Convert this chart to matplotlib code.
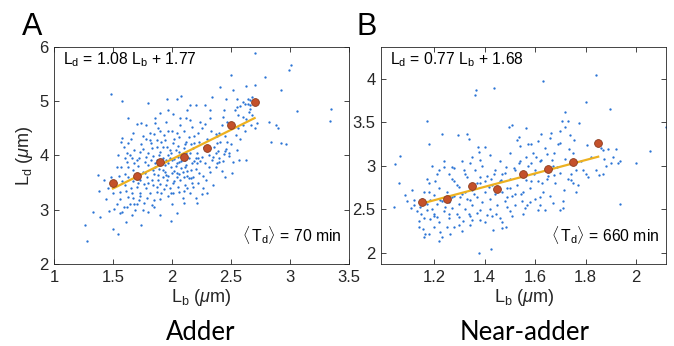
import matplotlib
matplotlib.use("Agg")
import matplotlib.pyplot as plt
import numpy as np

plt.rcParams['font.family'] = ['Liberation Sans', 'DejaVu Sans']
plt.rcParams['mathtext.fontset'] = 'custom'
plt.rcParams['mathtext.rm'] = 'Liberation Sans'
plt.rcParams['mathtext.it'] = 'Liberation Sans:italic'
plt.rcParams['mathtext.bf'] = 'Liberation Sans:bold'

# ---------------- Panel A data (Adder) ----------------
pts_a = [
 (2.70,5.88),(3.01,5.67),(2.99,5.58),(2.79,5.45),(2.50,5.47),(2.92,5.20),(2.41,5.26),(2.63,5.28),
 (1.48,5.13),(1.58,5.00),(1.80,4.96),(1.96,5.04),(2.04,5.04),(2.08,5.10),(2.15,4.92),(2.13,4.83),
 (2.07,4.68),(2.12,4.68),(2.20,4.93),(2.28,4.93),(2.32,4.83),(2.34,5.08),(2.46,5.03),(2.44,4.83),
 (2.53,4.83),(2.55,4.89),(2.55,5.04),(2.60,4.99),(2.64,5.04),(2.66,4.93),(2.66,5.02),(2.70,5.30),
 (2.68,5.08),(2.65,4.80),(2.63,4.66),(2.70,4.50),(2.56,4.51),(2.49,4.54),(2.54,4.37),(2.55,4.10),
 (2.63,3.91),(2.52,3.88),(2.51,3.68),(2.48,4.04),(2.88,4.55),(2.90,4.50),(2.92,4.22),(2.97,4.21),
 (3.06,4.81),(3.35,4.86),(3.34,4.63),(2.82,4.62),(1.63,4.69),(1.70,4.58),(1.78,4.56),(1.86,4.68),
 (1.90,4.78),(1.86,4.59),(1.97,4.83),(2.01,4.77),(1.90,4.44),(1.81,4.41),(1.75,4.35),(1.58,4.32),
 (1.59,4.16),(1.63,4.22),(1.64,4.00),(1.54,4.00),(1.57,3.79),(1.37,3.63),(1.42,3.55),(1.38,3.34),
 (1.39,2.87),(1.33,2.96),(1.26,2.71),(1.28,2.42),(1.47,2.98),(1.50,2.65),(1.54,2.56),(1.56,2.93),
 (1.61,2.77),(1.53,3.11),(1.68,3.11),(1.75,3.00),(1.74,2.71),(1.90,2.90),(1.99,2.79),(2.04,2.93),
 (2.21,3.13),(2.30,3.30),(2.31,3.79),(2.23,3.67),(2.25,3.97),(2.29,4.10),(2.37,4.40),(2.38,4.22),
 (2.35,3.97),(2.40,3.88),(2.37,3.79),(2.28,4.58),(2.22,4.41),(2.17,4.52),(2.19,4.22),(2.14,4.34),
 (2.10,4.13),(2.06,4.34),(2.05,3.97),(2.01,4.22),(1.97,4.00),(1.92,4.16),(1.87,4.29),(1.83,4.13),
 (1.78,3.97),(1.73,4.06),(1.70,3.91),(1.67,3.73),(1.63,3.61),(1.60,3.45),(1.56,3.33),(1.63,3.24),
 (1.67,3.21),(1.70,3.42),(1.73,3.30),(1.78,3.39),(1.83,3.55),(1.87,3.42),(1.85,3.18),(1.91,3.30),
 (1.95,3.45),(1.99,3.31),(2.02,3.52),(2.06,3.33),(2.11,3.45),(2.14,3.58),(2.18,3.42),(2.16,3.73),
 (2.21,3.85),(2.12,3.82),(2.08,3.76),(2.04,3.67),(1.99,3.79),(1.95,3.64),(1.92,3.73),(1.88,3.64),
 (1.84,3.73),(1.80,3.82),(1.75,3.70),(1.73,3.55),(1.67,3.52),(1.87,3.91),(1.90,4.07),(1.95,3.91),
 (1.98,4.10),(2.02,3.94),(2.06,4.07),(2.11,3.91),(2.15,4.04),(2.18,4.13),(2.12,4.25),(2.04,4.41),
 (1.97,4.44),(1.94,4.29),(1.87,4.16),(1.81,4.29),
 (1.58,3.52),(1.60,3.65),(1.62,3.88),(1.65,3.40),(1.66,3.95),(1.68,4.10),(1.69,3.62),(1.71,3.80),
 (1.72,3.18),(1.74,4.20),(1.76,3.48),(1.77,3.88),(1.79,3.60),(1.80,4.05),(1.81,3.30),(1.82,3.92),
 (1.84,3.45),(1.85,4.40),(1.86,3.78),(1.88,3.55),(1.89,4.00),(1.90,3.20),(1.91,3.85),(1.92,3.60),
 (1.93,4.38),(1.94,3.70),(1.96,3.55),(1.96,4.15),(1.97,3.86),(1.98,3.40),(1.99,4.05),(2.00,3.68),
 (2.00,3.92),(2.01,3.50),(2.02,4.30),(2.03,3.80),(2.04,3.60),(2.05,4.18),(2.06,3.88),(2.07,3.55),
 (2.08,4.00),(2.09,3.70),(2.10,3.35),(2.10,4.45),(2.11,3.78),(2.12,4.05),(2.13,3.62),(2.14,3.95),
 (2.15,3.30),(2.16,4.20),(2.17,3.85),(2.18,3.60),(2.19,4.35),(2.20,3.75),(2.21,4.05),(2.22,3.50),
 (2.23,4.25),(2.24,3.90),(2.25,4.50),(2.26,3.62),(2.27,4.15),(2.28,3.85),(2.30,4.30),(2.31,4.00),
 (2.32,3.70),(2.33,4.45),(2.34,3.92),(2.36,4.15),(2.38,4.35),(2.39,4.08),(2.40,3.95),(2.41,4.25),
 (2.42,4.55),(2.43,4.70),(2.45,4.35),(2.46,4.12),(2.47,4.62),(2.48,3.98),(1.55,3.62),(1.56,3.20),
 (1.57,4.25),(1.59,3.05),(1.61,3.35),(1.62,4.05),(1.64,3.10),(1.66,3.30),(1.67,4.42),(1.69,3.00),
 (1.71,3.50),(1.73,3.25),(1.74,4.60),(1.76,3.12),(1.78,4.30),(1.79,3.22),(1.82,4.22),(1.83,3.08),
 (1.85,3.65),(1.87,3.32),(1.88,4.50),(1.89,3.75),(1.91,4.25),(1.93,3.38),(1.95,4.62),(1.97,3.25),
 (1.98,3.95),(2.00,4.45),(2.01,3.30),(2.03,4.10),(2.05,3.42),(2.07,4.55),(2.09,3.22),(2.11,4.20),
 (2.13,3.40),(2.15,4.65),(2.17,3.50),(2.19,3.90),(2.20,3.22),(2.22,3.95),(2.24,4.62),(2.26,3.40),
 (2.29,3.55),(2.32,4.68),(2.35,3.45),(2.37,4.05),(2.40,4.42),(2.43,3.90),(2.45,3.60),(1.60,3.95),
 (1.63,3.78),(1.65,4.30),(1.68,3.85),(1.72,3.95),(1.75,4.12),(1.77,3.68),(1.80,3.50),(1.84,3.98),
 (1.86,3.85),(1.90,3.48),(1.92,3.95),(1.94,3.82),(1.97,3.62),(2.02,3.72),(2.04,3.85),(2.06,3.65),
 (2.08,3.90),(2.10,3.60),(2.13,3.72),(2.16,3.58),(2.20,3.95),(1.50,3.30),(1.52,3.48),(1.53,3.78),
 (1.46,3.40),(1.44,3.20),(1.48,3.60),(1.51,3.02),(1.58,2.95),(1.62,3.05),(1.66,2.90),(1.70,3.10),
 (1.80,2.95),(1.85,3.05),(2.00,3.10),(2.10,3.12),(2.25,3.28),(2.38,3.85),(2.42,3.72),(2.50,4.20),
 (2.58,4.30),(2.60,4.70),(2.62,4.45),(2.56,4.75),(2.58,4.90),(2.68,4.75),(2.72,4.60),
 (2.47,4.25),(2.45,4.08),(2.44,4.03),(2.57,3.92),(2.84,4.24),(2.52,5.20),(2.62,4.95),(2.64,4.95),
 (2.66,4.86),(2.67,4.56),(2.60,4.55),
]
lb_a = [p[0] for p in pts_a]
ld_a = [p[1] for p in pts_a]

bin_lb_a = [1.5, 1.7, 1.9, 2.1, 2.3, 2.5, 2.7]
bin_ld_a = [3.50, 3.62, 3.87, 3.97, 4.13, 4.55, 4.99]
slope_a, icpt_a = 1.08, 1.77
fit_range_a = [1.5, 2.7]

# ---------------- Panel B data (Near-adder) ----------------
pts_b = [
 (1.842,4.05),(1.631,3.98),(1.435,3.89),(1.367,3.87),(1.36,3.82),(1.80,3.73),(1.895,3.65),(1.173,3.51),
 (1.72,3.62),(1.73,3.52),(1.705,3.51),(1.774,3.49),(2.118,3.45),(2.057,3.17),(2.00,3.03),(1.066,3.11),
 (1.043,3.02),(1.04,2.53),(1.085,2.66),(1.232,3.37),(1.293,3.35),(1.18,3.25),(1.33,3.36),(1.337,3.31),
 (1.374,3.22),(1.40,3.22),(1.376,3.16),(1.496,3.45),(1.507,3.47),(1.536,3.33),(1.538,3.23),(1.562,3.43),
 (1.582,3.25),(1.622,3.36),(1.662,3.38),(1.675,3.15),(1.70,3.26),(1.72,3.45),(1.736,3.19),(1.755,3.30),
 (1.807,3.24),(1.87,3.18),(1.873,3.08),(1.887,3.19),(1.91,3.10),(1.92,3.19),(1.927,3.03),(1.937,3.05),
 (1.90,3.03),(1.935,2.56),(1.854,2.89),(1.871,2.90),(1.808,2.87),(1.79,2.95),(1.744,2.91),(1.744,2.84),
 (1.752,2.80),(1.76,2.70),(1.715,2.72),(1.70,2.49),(1.71,2.51),(1.67,2.57),(1.648,2.85),(1.628,2.80),
 (1.62,2.64),(1.61,2.49),(1.64,2.49),(1.566,2.55),(1.549,2.59),(1.542,2.68),(1.522,2.68),(1.502,2.74),
 (1.489,2.64),(1.489,2.53),(1.469,2.28),(1.486,2.30),(1.433,2.26),(1.423,2.04),(1.376,2.00),(1.445,2.45),
 (1.41,2.43),(1.383,2.49),(1.35,2.38),(1.337,2.45),(1.314,2.36),(1.297,2.41),(1.277,2.30),(1.261,2.22),
 (1.224,2.24),(1.217,2.13),(1.197,2.30),(1.164,2.22),(1.16,2.18),(1.155,2.27),(1.138,2.36),(1.142,2.53),
 (1.147,2.45),(1.17,2.49),(1.184,2.61),(1.118,2.61),(1.107,2.51),(1.158,2.70),(1.178,2.80),(1.204,2.82),
 (1.217,2.95),(1.237,2.99),(1.257,2.91),(1.27,2.99),(1.277,2.82),(1.297,2.76),(1.303,2.64),(1.323,2.70),
 (1.343,2.61),(1.356,2.68),(1.37,2.80),(1.383,2.87),(1.403,2.82),(1.416,2.76),(1.423,2.85),(1.436,2.91),
 (1.463,2.84),(1.47,2.91),(1.483,2.99),(1.516,2.97),(1.536,3.03),(1.562,3.10),(1.582,3.03),(1.602,3.10),
 (1.622,3.07),(1.648,3.14),(1.668,3.07),(1.688,2.99),(1.675,2.89),(1.595,2.91),(1.582,2.82),(1.562,2.84),
 (1.383,3.07),(1.343,3.03),(1.317,2.95),(1.33,2.87),(1.27,2.64),(1.244,2.53),(1.224,2.61),(1.257,2.45),
 (1.21,2.41),(1.197,2.45),(1.184,2.39),
 (1.12,2.55),(1.13,2.48),(1.15,2.62),(1.16,2.40),(1.17,2.56),(1.18,2.70),(1.19,2.50),(1.20,2.42),
 (1.20,2.66),(1.21,2.56),(1.22,2.35),(1.22,2.75),(1.23,2.60),(1.24,2.48),(1.25,2.70),(1.25,2.30),
 (1.26,2.58),(1.27,2.85),(1.27,2.52),(1.28,2.65),(1.29,2.44),(1.29,2.78),(1.30,2.56),(1.30,2.32),
 (1.31,2.68),(1.32,2.50),(1.32,2.90),(1.33,2.62),(1.34,2.42),(1.35,2.72),(1.35,2.55),(1.36,2.95),
 (1.37,2.64),(1.37,2.46),(1.38,2.80),(1.39,2.58),(1.40,2.70),(1.40,2.35),(1.41,2.88),(1.42,2.62),
 (1.42,2.50),(1.43,2.78),(1.44,2.68),(1.44,2.95),(1.45,2.55),(1.46,2.82),(1.46,2.40),(1.47,2.70),
 (1.48,2.60),(1.48,2.92),(1.49,2.75),(1.50,2.48),(1.50,2.85),(1.51,2.65),(1.52,2.95),(1.52,2.55),
 (1.53,2.78),(1.54,3.05),(1.55,2.70),(1.56,2.88),(1.56,2.52),(1.57,3.00),(1.58,2.75),(1.59,3.15),
 (1.60,2.62),(1.60,2.95),(1.61,2.82),(1.62,3.05),(1.63,2.70),(1.64,3.20),(1.65,2.88),(1.66,2.65),
 (1.67,3.00),(1.68,2.80),(1.69,3.25),(1.70,2.92),(1.71,2.60),(1.72,3.08),(1.73,2.85),(1.75,3.15),
 (1.76,2.95),(1.77,2.78),(1.78,3.05),(1.80,2.90),(1.82,3.10),(1.84,2.95),(1.86,3.20),(1.88,3.00),
 (1.14,2.30),(1.18,2.22),(1.23,2.18),(1.26,2.40),(1.31,2.25),(1.34,2.32),(1.38,2.38),(1.43,2.42),
 (1.47,2.35),(1.51,2.42),(1.55,2.45),(1.58,2.58),(1.62,2.55),(1.28,2.98),(1.31,3.05),(1.24,3.05),
 (1.35,3.10),(1.39,3.00),(1.42,3.12),(1.46,3.05),(1.50,3.15),(1.53,3.30),(1.57,3.25),(1.61,3.28),
 (1.66,3.32),(1.70,3.40),(1.74,3.35),(1.11,2.72),(1.17,2.85),(1.21,2.90),(1.19,3.00),(1.09,2.60),
 (1.06,2.80),
]
lb_b = [p[0] for p in pts_b]
ld_b = [p[1] for p in pts_b]

bin_lb_b = [1.15, 1.25, 1.35, 1.45, 1.55, 1.65, 1.75, 1.85]
bin_ld_b = [2.585, 2.62, 2.77, 2.73, 2.91, 2.96, 3.04, 3.26]
slope_b, icpt_b = 0.77, 1.68
fit_range_b = [1.15, 1.85]

# ---------------- Figure ----------------
W, H = 674, 346
fig = plt.figure(figsize=(W/100, H/100), dpi=100)

ax_color = '#262626'
dot_blue = '#2a74d4'
bin_face = '#c4512b'
bin_edge = '#8a3a1d'
fit_col = '#EDB120'

def style(ax):
    for s in ax.spines.values():
        s.set_color('#262626')
        s.set_linewidth(0.6)
    ax.tick_params(direction='in', top=True, right=True, length=3.5, width=0.6,
                   colors=ax_color, labelsize=12, pad=4)

axA = fig.add_axes([54/W, (H-264)/H, (349-54)/W, (264-46.7)/H])
axB = fig.add_axes([381.3/W, (H-264)/H, (666.3-381.3)/W, (264-46.7)/H])

for ax, lb, ld, blb, bld, sl, ic, fr in [
        (axA, lb_a, ld_a, bin_lb_a, bin_ld_a, slope_a, icpt_a, fit_range_a),
        (axB, lb_b, ld_b, bin_lb_b, bin_ld_b, slope_b, icpt_b, fit_range_b)]:
    ax.scatter(lb, ld, s=2.8, color=dot_blue, linewidths=0, zorder=2)
    xf = np.array(fr)
    ax.plot(xf, sl*xf + ic, color=fit_col, lw=1.6, zorder=3)
    ax.plot(blb, bld, 'o', ms=5.6, mfc=bin_face, mec=bin_edge, mew=0.6, zorder=4)
    style(ax)

axA.set_xlim(1, 3.5)
axA.set_ylim(2, 6)
axA.set_xticks([1, 1.5, 2, 2.5, 3, 3.5])
axA.set_xticklabels(['1', '1.5', '2', '2.5', '3', '3.5'])
axA.set_yticks([2, 3, 4, 5, 6])

axB.set_xlim(0.99, 2.12)
axB.set_ylim(1.87, 4.37)
axB.set_xticks([1.2, 1.4, 1.6, 1.8, 2.0])
axB.set_xticklabels(['1.2', '1.4', '1.6', '1.8', '2'])
axB.set_yticks([2, 2.5, 3, 3.5, 4])
axB.set_yticklabels(['2', '2.5', '3', '3.5', '4'])

lab_fs = 13
axA.set_xlabel(r'$\mathrm{L_b}$ ($\mu$m)', fontsize=lab_fs, color=ax_color, labelpad=2)
axB.set_xlabel(r'$\mathrm{L_b}$ ($\mu$m)', fontsize=lab_fs, color=ax_color, labelpad=2)
axA.set_ylabel(r'$\mathrm{L_d}$ ($\mu$m)', fontsize=lab_fs, color=ax_color, labelpad=3)

ann_fs = 11.3
axA.text(0.03, 0.94, r'$\mathrm{L_d}$ = 1.08 $\mathrm{L_b}$ + 1.77', transform=axA.transAxes,
         fontsize=ann_fs, va='center', ha='left', color='black')
axB.text(0.03, 0.94, r'$\mathrm{L_d}$ = 0.77 $\mathrm{L_b}$ + 1.68', transform=axB.transAxes,
         fontsize=ann_fs, va='center', ha='left', color='black')
axA.text(0.975, 0.135, r'$\langle\,\mathrm{T_d}\rangle$ = 70 min', transform=axA.transAxes,
         fontsize=ann_fs, va='center', ha='right', color='black')
axB.text(0.975, 0.135, r'$\langle\,\mathrm{T_d}\rangle$ = 660 min', transform=axB.transAxes,
         fontsize=ann_fs, va='center', ha='right', color='black')

fig.text(32/W, 1-27/H, 'A', fontsize=22, ha='center', va='center', color='black')
fig.text(367/W, 1-27/H, 'B', fontsize=22, ha='center', va='center', color='black')
fig.text(201/W, 1-332/H, 'Adder', fontsize=18.5, ha='center', va='center',
         family=['Lato', 'DejaVu Sans'], color='black')
fig.text(525/W, 1-332/H, 'Near-adder', fontsize=18.5, ha='center', va='center',
         family=['Lato', 'DejaVu Sans'], color='black')

fig.savefig('out.png', dpi=100)
